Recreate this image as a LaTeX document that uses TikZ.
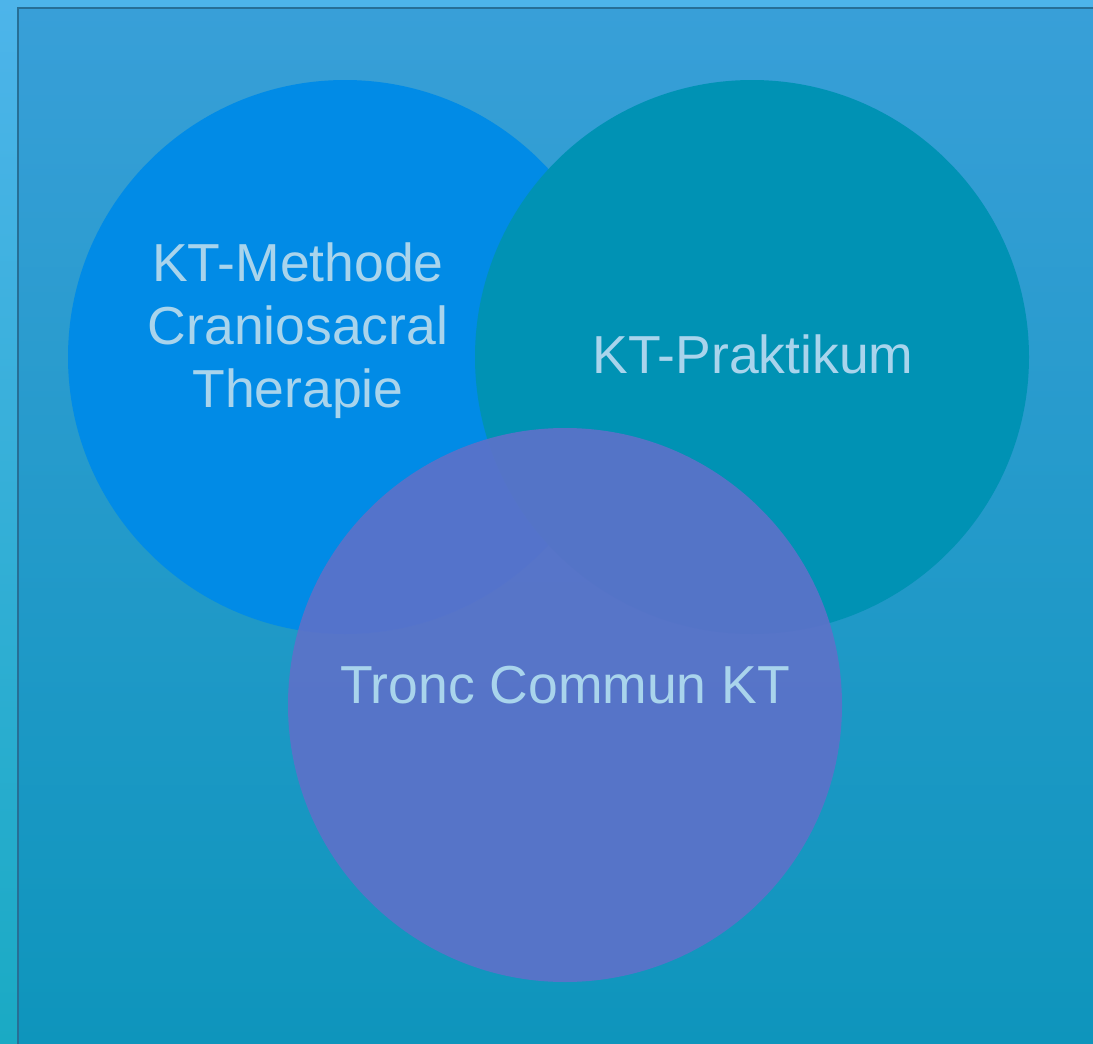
\documentclass[tikz,border=0pt]{standalone}
\usepackage{fontspec}
\setmainfont{Liberation Sans}
\usepackage{tikz}
\definecolor{outertop}{HTML}{4DB4EA}
\definecolor{outerbot}{HTML}{1AAAC4}
\definecolor{paneltop}{HTML}{389FD8}
\definecolor{panelbot}{HTML}{0E95BC}
\definecolor{panelline}{HTML}{276F96}
\definecolor{methblue}{HTML}{018BE6}
\definecolor{praktteal}{HTML}{0092B4}
\definecolor{troncviolet}{HTML}{5C72C9}
\definecolor{labelblue}{HTML}{A9D4EC}

\begin{document}
\begin{tikzpicture}[x=1pt,y=-1pt,font=\fontsize{53.5}{63}\selectfont]

\tikzstyle{venn}=[circle,minimum size=554pt,inner sep=0pt]
\tikzstyle{lbl}=[text=labelblue,align=center,inner sep=0pt]

    \useasboundingbox (0,0) rectangle (1093,1044);
    \shade[top color=outertop,bottom color=outerbot] (0,0) rectangle (1093,1044);
    \shade[top color=paneltop,bottom color=panelbot] (18,8) rectangle (1093,1044);
    \draw[panelline,line width=2pt] (18,1044) -- (18,8) -- (1093,8);

    \node[venn,fill=methblue] (meth) at (345,357) {};
    \node[venn,fill=praktteal] (prakt) at (752,357) {};
    \node[venn,fill=troncviolet,fill opacity=0.92] (tronc) at (565,705) {};

    \node[lbl] (methtext) at (298,331) {KT-Methode\\Craniosacral\\Therapie};
    \node[lbl,anchor=base] (prakttext) at (753,373) {KT-Praktikum};
    \node[lbl,anchor=base] (tronctext) at (565,703) {Tronc Commun KT};
\end{tikzpicture}
\end{document}
